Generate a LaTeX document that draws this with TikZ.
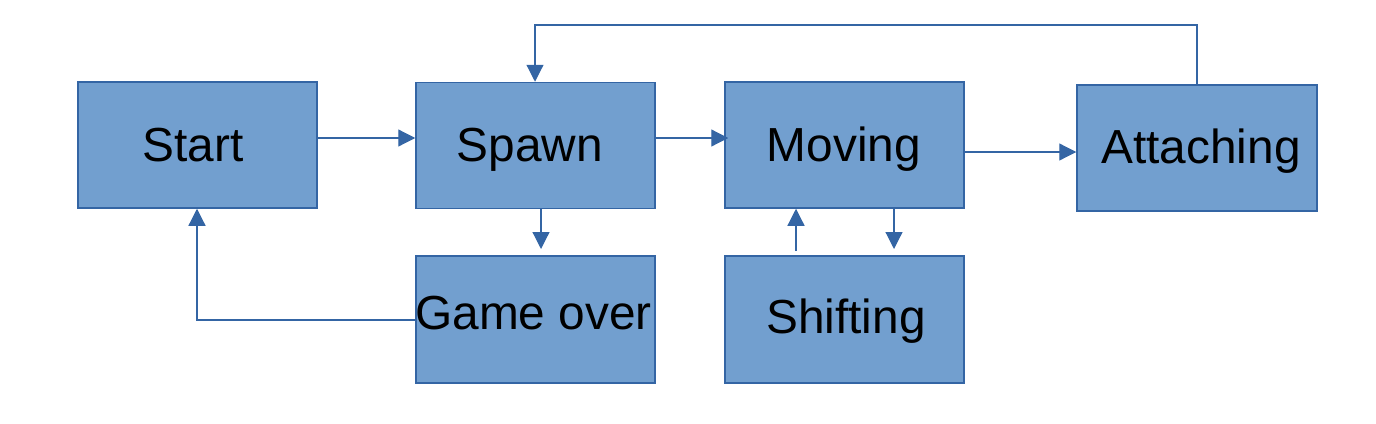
\documentclass[tikz,border=0pt]{standalone}
\usepackage{fontspec}
\setmainfont{Liberation Sans}
\usetikzlibrary{arrows.meta}
\definecolor{boxfill}{HTML}{729FCF}
\definecolor{boxline}{HTML}{3465A4}
\tikzset{
  box/.style={draw=boxline, fill=boxfill, line width=1.5pt, rectangle, inner sep=0pt, minimum width=239pt, minimum height=126pt},
  lbl/.style={anchor=base, inner sep=0pt, font=\fontsize{47.8}{52}\selectfont},
  conn/.style={draw=boxline, line width=1.2pt, -{Triangle[length=17pt,width=17pt]}},
  plain/.style={draw=boxline, line width=1.2pt}
}
\begin{document}
\begin{tikzpicture}[x=1pt,y=-1pt]
\useasboundingbox (0,0) rectangle (1376,423);
\node[box] (start) at (197.5,145) {};
\node[box] (spawn) at (535.5,145.5) {};
\node[box] (moving) at (844.5,145) {};
\node[box, minimum width=240pt] (attach) at (1197,148) {};
\node[box, minimum height=127pt] (gameover) at (535.5,319.5) {};
\node[box, minimum height=127pt] (shift) at (844.5,319.5) {};
\node[lbl] (startT) at (193,161) {Start};
\node[lbl] (spawnT) at (530,161) {Spawn};
\node[lbl] (movingT) at (844,161) {Moving};
\node[lbl] (attachT) at (1201,163) {Attaching};
\node[lbl] (gameoverT) at (533.5,329) {Game over};
\node[lbl] (shiftT) at (846,333) {Shifting};
% helper coordinates
\coordinate (r1) at (0,138);
\coordinate (r2) at (0,152);
\coordinate (top) at (0,25);
\coordinate (c1) at (535,0);
\coordinate (c2) at (1197,0);
\coordinate (c3) at (541,0);
\coordinate (c4) at (894,0);
\coordinate (c5) at (796,0);
\coordinate (c6) at (197,0);
\coordinate (r3) at (0,320);
\coordinate (tipA) at (541,249);
\coordinate (tipB) at (894,249);
\coordinate (startB) at (796,251);
% connectors
\draw[conn] (start.east |- r1) -- (spawn.west |- r1);
\draw[conn] (spawn.east |- r1) -- ([xshift=4pt]moving.west |- r1);
\draw[conn] (moving.east |- r2) -- (attach.west |- r2);
\draw[conn] (attach.north -| c2) -- (c2 |- top) -- (c1 |- top) -- (spawn.north -| c1);
\draw[conn] (spawn.south -| c3) -- (tipA);
\draw[conn] (moving.south -| c4) -- (tipB);
\draw[conn] (startB) -- (moving.south -| c5);
\draw[conn] (gameover.west |- r3) -- (c6 |- r3) -- (start.south -| c6);
\end{tikzpicture}
\end{document}
